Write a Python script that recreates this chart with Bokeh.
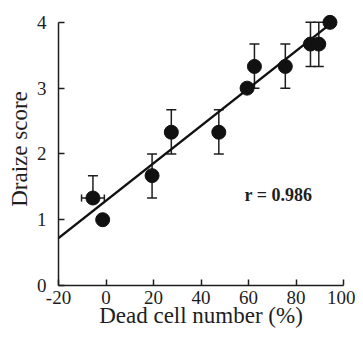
from bokeh.plotting import figure
from bokeh.models import ColumnDataSource, Whisker, TeeHead, Label, FixedTicker, Range1d
from bokeh.embed import file_html
from bokeh.resources import INLINE

# data
dead_cells = [-5.5, -1.4, 19.4, 27.5, 47.5, 59.4, 62.5, 75.5, 86.1, 89.6, 94.3]
draize = [1.33, 1.0, 1.67, 2.33, 2.33, 3.0, 3.33, 3.33, 3.67, 3.67, 4.0]

# vertical error bars (points that have them)
err_x = [-5.5, 19.4, 27.5, 47.5, 62.5, 75.5, 86.1, 89.6]
err_low = [1.33, 1.33, 2.0, 2.0, 3.0, 3.0, 3.33, 3.33]
err_high = [1.67, 2.0, 2.67, 2.67, 3.67, 3.67, 4.0, 4.0]

# horizontal error bar
herr_y = [1.33]
herr_low = [-10.3]
herr_high = [-0.7]

# regression line end points
fit_x = [-20, 92.5]
fit_y = [0.72, 3.92]

x_ticks = [-20, 0, 20, 40, 60, 80, 100]
x_tick_labels = ["-20", "0", "20", "40", "60", "80", "100"]
y_ticks = [0, 1, 2, 3, 4]
r_text = "r = 0.986"
x_title = "Dead cell number (%)"
y_title = "Draize score"

FONT = "Liberation Serif"
INK = "#1e1e1e"

p = figure(width=355, height=330, output_backend="svg", toolbar_location=None,
           x_range=Range1d(-20, 100), y_range=Range1d(0, 4.15),
           min_border_left=58, min_border_right=12, min_border_top=12, min_border_bottom=45)
p.outline_line_color = None
p.grid.visible = False
p.background_fill_color = "white"
p.border_fill_color = "white"

for ax in (p.xaxis[0], p.yaxis[0]):
    ax.axis_line_color = INK
    ax.axis_line_width = 1.5
    ax.major_tick_line_color = INK
    ax.major_tick_line_width = 1.5
    ax.major_tick_in = 6
    ax.major_tick_out = 0
    ax.minor_tick_line_color = None
    ax.major_label_text_font = FONT
    ax.major_label_text_font_size = "19px"
    ax.major_label_text_color = INK
    ax.axis_label_text_font = FONT
    ax.axis_label_text_font_size = "23px"
    ax.axis_label_text_font_style = "normal"
    ax.axis_label_text_color = INK

p.xaxis[0].ticker = FixedTicker(ticks=x_ticks)
p.xaxis[0].major_label_overrides = {t: s for t, s in zip(x_ticks, x_tick_labels)}
p.yaxis[0].ticker = FixedTicker(ticks=y_ticks)
p.yaxis[0].bounds = (0, 4)
p.xaxis[0].bounds = (-20, 100)
p.xaxis[0].major_label_standoff = 5
p.xaxis[0].axis_label_standoff = -4
p.yaxis[0].major_label_standoff = 12
p.yaxis[0].axis_label_standoff = 2
p.xaxis[0].axis_label = x_title
p.yaxis[0].axis_label = y_title

p.line(fit_x, fit_y, line_color="#111111", line_width=2.5)

esrc = ColumnDataSource(dict(x=err_x, lo=err_low, hi=err_high))
p.add_layout(Whisker(source=esrc, base="x", lower="lo", upper="hi",
                     line_color=INK, line_width=1.5,
                     upper_head=TeeHead(size=10, line_color=INK, line_width=1.5),
                     lower_head=TeeHead(size=10, line_color=INK, line_width=1.5)))

hsrc = ColumnDataSource(dict(y=herr_y, lo=herr_low, hi=herr_high))
p.add_layout(Whisker(source=hsrc, base="y", lower="lo", upper="hi", dimension="width",
                     line_color=INK, line_width=1.5,
                     upper_head=TeeHead(size=7, line_color=INK, line_width=1.5),
                     lower_head=TeeHead(size=7, line_color=INK, line_width=1.5)))

p.scatter(dead_cells, draize, size=14, fill_color="#111111", line_color="#111111")

p.add_layout(Label(x=72.6, y=1.37, text=r_text, text_font=FONT, text_font_size="18px",
                   text_font_style="bold", text_align="center", text_baseline="middle",
                   text_color=INK))

open("out.html", "w").write(file_html(p, INLINE))
